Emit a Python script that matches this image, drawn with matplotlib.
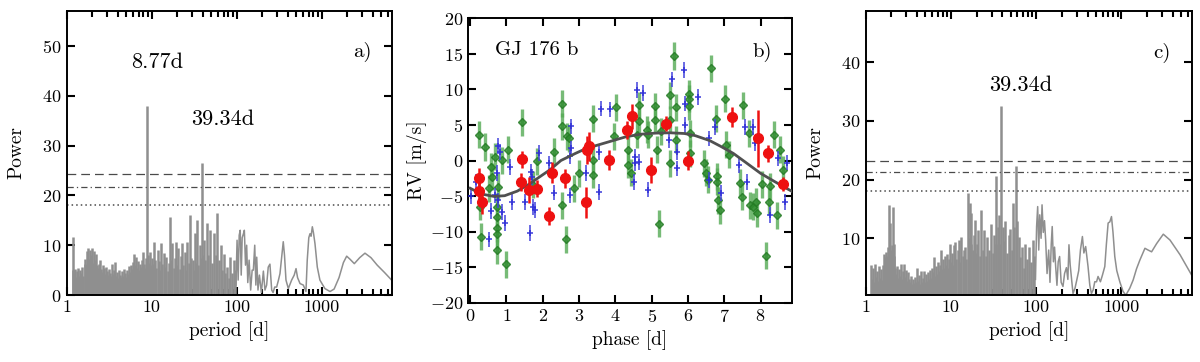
import matplotlib
matplotlib.use("Agg")
import matplotlib.pyplot as plt
from matplotlib.ticker import NullFormatter, FixedLocator

plt.rcParams['font.family'] = 'serif'
plt.rcParams['font.serif'] = ['cmr10']
plt.rcParams['mathtext.fontset'] = 'cm'
plt.rcParams['axes.formatter.use_mathtext'] = True

# ---------------- Panel a: periodogram (peaks, dense part) ----------------
a_peak_period = [1.17, 1.19, 1.22, 1.26, 1.29, 1.33, 1.37, 1.41, 1.45, 1.49, 1.53, 1.57, 1.62, 1.66,
                 1.70, 1.75, 1.79, 1.84, 1.89, 1.94, 1.99, 2.05, 2.10, 2.16, 2.22, 2.28, 2.34, 2.40,
                 2.46, 2.53, 2.60, 2.67, 2.74, 2.81, 2.89, 2.97, 3.05, 3.13, 3.22, 3.31, 3.40, 3.49,
                 3.58, 3.68, 3.78, 3.88, 3.99, 4.10, 4.21, 4.33, 4.45, 4.57, 4.69, 4.82, 4.95, 5.09,
                 5.23, 5.37, 5.52, 5.67, 5.83, 5.99, 6.15, 6.32, 6.50, 6.68, 6.86, 7.05, 7.24, 7.44,
                 7.65, 7.86, 8.07, 8.29, 8.52, 8.77, 9.01, 9.26, 9.51, 9.77, 10.0,
                 10.3, 10.6, 10.9, 11.3, 11.7, 12.1, 12.5, 12.8, 13.3, 13.8, 14.3, 14.9, 15.5, 16.0,
                 16.5, 17.0, 17.5, 18.1, 18.6, 19.2, 19.9, 20.6, 21.3, 22.0, 22.8, 23.6, 24.4, 25.3,
                 26.3, 27.2, 28.2, 29.2, 30.2, 31.1, 32.0, 33.2, 34.4, 35.5, 36.6, 37.8, 38.8, 40.0,
                 41.0, 42.5, 44.6, 46.5, 48.9, 51.0, 53.5, 56.5, 59.4, 62.0, 64.5, 67.0, 70.0, 73.5,
                 77.0, 80.5, 84.0, 88.0, 92.0, 96.0]
a_peak_power = [11.6, 5.0, 4.2, 5.3, 3.6, 4.8, 5.5, 3.9, 5.0, 4.4, 5.6, 3.8, 6.2, 7.3,
                6.0, 8.9, 9.4, 7.2, 9.1, 8.0, 9.5, 6.4, 8.8, 7.0, 8.3, 6.1, 5.4, 6.3,
                7.0, 5.2, 4.6, 6.0, 5.4, 4.3, 5.7, 4.8, 4.0, 5.3, 4.5, 3.8, 6.3, 4.2,
                5.0, 6.7, 3.9, 4.6, 3.5, 5.0, 4.1, 3.6, 4.9, 3.8, 5.3, 4.4, 3.7, 5.0,
                4.2, 5.8, 4.6, 6.1, 5.2, 6.6, 8.3, 6.0, 7.7, 5.5, 6.8, 5.0, 6.2, 5.6,
                7.0, 8.7, 6.3, 5.4, 7.5, 37.9, 8.0, 6.5, 8.7, 6.0, 7.5,
                6.2, 10.7, 7.0, 5.4, 9.0, 6.8, 5.0, 10.4, 6.2, 8.4, 5.6, 7.7, 4.8, 6.5,
                15.7, 7.0, 10.4, 5.5, 7.5, 10.7, 6.0, 9.4, 5.3, 7.8, 10.4, 6.0, 8.7, 5.0,
                10.7, 6.5, 16.0, 7.5, 7.0, 5.0, 12.4, 6.5, 15.0, 6.0, 10.0, 7.5, 26.5, 8.0,
                11.0, 7.0, 14.4, 8.0, 13.0, 6.5, 12.4, 8.0, 16.4, 7.0, 10.0, 5.0, 8.3, 4.5,
                5.7, 3.5, 7.7, 4.5, 7.0, 5.0]
# Panel a: long-period part of the periodogram (continuous line)
a_line_period = [98, 101, 104, 107, 110, 113, 116, 120, 123, 127, 131, 135, 140, 146, 152, 157, 163,
                 168, 172, 178, 185, 195, 206, 215, 225, 235, 246, 258, 268, 280, 295, 310, 323, 340,
                 353, 365, 380, 405, 443, 475, 499, 520, 556, 608, 653, 676, 705, 728, 750, 776, 800,
                 834, 888, 953, 1090, 1253, 1400, 1600, 1800, 1968, 2150, 2420, 2800, 3230, 3800,
                 4500, 5500, 6650]
a_line_power = [2.0, 11.0, 3.0, 12.0, 13.0, 4.0, 11.5, 12.3, 13.0, 6.0, 10.0, 2.5, 7.0, 1.0, 5.0, 5.0,
                10.0, 2.0, 7.6, 1.0, 4.0, 0.5, 4.8, 1.0, 2.0, 5.6, 6.2, 1.0, 0.5, 1.6, 1.6, 3.0, 4.3,
                8.0, 10.7, 8.0, 3.0, 1.3, 3.0, 4.0, 5.3, 3.5, 2.3, 2.0, 0.7, 7.0, 11.5, 12.3, 11.8,
                13.7, 12.5, 10.3, 5.6, 3.0, 1.3, 0.7, 1.2, 3.5, 6.5, 7.8, 7.2, 6.3, 7.5, 8.4, 7.5,
                6.0, 4.5, 3.0]
a_levels = [24.2, 21.6, 18.1]

# ---------------- Panel c ----------------
c_peak_period = [1.16, 1.19, 1.22, 1.25, 1.28, 1.31, 1.35, 1.38, 1.42, 1.46, 1.50, 1.54, 1.58, 1.62,
                 1.66, 1.70, 1.74, 1.78, 1.83, 1.88, 1.92, 1.97, 2.02, 2.08, 2.12, 2.17, 2.22, 2.28,
                 2.34, 2.40, 2.46, 2.53, 2.60, 2.67, 2.74, 2.81, 2.89, 2.97, 3.05, 3.13, 3.22, 3.31,
                 3.40, 3.49, 3.58, 3.68, 3.78, 3.88, 3.99, 4.10, 4.21, 4.33, 4.45, 4.57, 4.69, 4.82,
                 4.95, 5.09, 5.23, 5.37, 5.52, 5.67, 5.83, 5.99, 6.15, 6.32, 6.50, 6.68, 6.86, 7.05,
                 7.24, 7.44, 7.65, 7.86, 8.07, 8.29, 8.52, 8.77, 9.01, 9.26, 9.51, 9.77, 10.0,
                 10.3, 10.6, 10.9, 11.2, 11.6, 12.0, 12.3, 12.7, 13.2, 13.7, 14.1, 14.5, 15.1, 15.8,
                 16.2, 16.6, 17.0, 17.4, 18.0, 18.5, 19.0, 19.6, 20.2, 20.8, 21.7, 22.7, 23.6, 24.5,
                 25.6, 26.7, 28.0, 29.7, 31.0, 32.3, 33.3, 34.2, 35.2, 36.2, 37.2, 38.9, 40.3, 41.5,
                 43.5, 45.5, 47.5, 49.5, 51.5, 53.5, 55.5, 57.7, 60.0, 62.5, 65.0, 68.0, 71.0, 74.5,
                 78.0, 82.0, 86.0, 91.0, 95.0]
c_peak_power = [5.5, 3.0, 5.0, 2.6, 5.7, 3.4, 4.5, 2.8, 5.3, 3.2, 4.8, 2.9, 5.5, 4.0,
                7.3, 6.8, 7.6, 7.0, 8.6, 15.6, 12.6, 8.0, 8.8, 15.4, 9.0, 7.0, 5.0, 4.0,
                5.2, 3.3, 4.8, 3.6, 5.7, 3.1, 4.4, 5.7, 3.4, 4.6, 2.8, 4.3, 3.0, 2.5,
                3.6, 2.2, 3.1, 2.4, 3.4, 2.6, 4.9, 2.8, 3.8, 2.3, 4.5, 2.6, 3.2, 4.4,
                2.5, 3.9, 2.7, 4.2, 3.0, 4.6, 3.3, 5.0, 4.2, 6.9, 3.5, 5.3, 4.0, 6.0,
                4.5, 5.5, 8.0, 4.8, 6.5, 5.0, 7.0, 5.5, 7.4, 5.0, 6.5, 9.1, 6.0,
                7.5, 5.5, 8.8, 9.4, 6.5, 8.0, 9.7, 6.0, 10.3, 7.0, 8.0, 8.6, 6.5, 17.7,
                10.0, 16.0, 9.0, 14.3, 8.0, 10.5, 13.1, 7.5, 9.0, 11.4, 7.0, 14.8, 8.0, 11.4,
                7.0, 10.3, 8.0, 12.5, 7.5, 10.6, 9.0, 20.6, 12.0, 14.0, 9.0, 32.6, 12.0, 9.5,
                13.0, 7.5, 10.5, 11.5, 8.0, 16.0, 12.0, 22.3, 13.0, 10.3, 6.9, 8.5, 5.0, 9.0,
                6.5, 8.5, 6.0, 9.7, 7.0]
c_line_period = [98, 101, 104, 107, 110, 114, 117, 121, 125, 129, 134, 140, 145, 150, 154, 159, 164,
                 169, 175, 181, 188, 196, 206, 215, 226, 235, 242, 250, 262, 270, 285, 300, 315, 330,
                 348, 362, 380, 405, 425, 444, 465, 486, 510, 531, 566, 597, 637, 665, 697, 730, 763,
                 795, 834, 880, 955, 1040, 1122, 1250, 1370, 1500, 1643, 1883, 2050, 2254, 2582,
                 3091, 3706, 4858, 6668]
c_line_power = [3.0, 12.0, 15.4, 8.0, 14.0, 10.0, 15.7, 11.0, 13.0, 9.7, 4.0, 8.0, 2.5, 9.0, 12.0,
                6.0, 8.5, 5.2, 2.0, 6.0, 6.9, 2.5, 1.8, 4.0, 5.0, 3.0, 8.9, 5.5, 2.5, 0.6, 1.5, 3.0,
                4.5, 8.0, 10.3, 7.5, 8.6, 5.2, 2.0, 0.6, 1.2, 2.6, 2.6, 3.5, 2.6, 3.7, 5.2, 9.0, 12.6,
                12.8, 13.7, 11.0, 6.9, 4.5, 2.6, 1.0, 0.3, 1.5, 2.9, 4.8, 6.3, 8.3, 8.0, 7.7, 9.1,
                10.7, 9.7, 7.2, 3.7]
c_levels = [23.2, 21.25, 18.0]

# ---------------- Panel b: phased RVs ----------------
g_phase = [0.25, 0.27, 0.30, 0.41, 0.51, 0.57, 0.60, 0.69, 0.73, 0.73, 0.73, 0.73, 0.73, 0.78, 0.87,
           0.99, 1.04, 1.44, 1.73, 1.85, 2.30, 2.54, 2.54, 2.64, 2.54, 2.66, 2.71, 2.85, 3.00, 3.38,
           3.38, 3.38, 3.95, 4.01, 4.34, 4.34, 4.44, 4.64, 4.64, 4.59, 4.87, 4.91, 5.08, 5.08, 5.14,
           5.19, 5.26, 5.51, 5.51, 5.51, 5.62, 5.67, 5.67, 6.04, 6.04, 6.04, 6.06, 6.06, 6.63, 6.45,
           6.50, 6.54, 6.78, 6.80, 6.80, 6.84, 6.89, 7.02, 7.05, 7.12, 7.44, 7.48, 7.53, 7.67, 7.71,
           7.79, 7.88, 7.90, 8.03, 8.15, 8.22, 8.25, 8.36, 8.45, 8.54, 8.63]
g_rv = [3.6, -6.5, -10.7, 1.9, -3.9, -0.9, -2.3, 0.5, -6.5, -7.9, -9.5, -10.4, -12.6, -3.7, 0.07,
        -14.6, 1.5, 5.4, -3.4, -0.07, 1.2, 7.95, 4.8, -11.1, -6.3, 3.4, 3.1, -3.9, -1.8, 5.9,
        0.07, -2.0, 3.4, 7.5, 1.5, -0.6, -1.7, 7.8, 5.6, 3.6, 4.3, 3.6, 7.6, 5.7, 1.5,
        -8.9, 4.1, 9.2, 5.7, -0.4, 14.7, 2.9, 7.5, 9.4, 8.7, 7.6, 3.8, 1.0, 13.0, -0.4,
        -1.7, -2.7, 5.9, -2.2, -3.0, -5.6, -7.0, 8.7, 2.2, 0.8, -3.1, -5.1, 7.8, 3.8, -6.3,
        -6.5, -5.8, -7.4, -3.35, -13.4, -5.8, -3.6, 3.6, -7.7, 1.5, -1.3]
g_err = 1.9

b_phase = [0.03, 0.17, 0.51, 0.57, 0.69, 0.73, 0.78, 0.83, 0.78, 0.87, 0.95, 1.10, 1.15, 1.52, 1.65,
           1.68, 1.70, 1.73, 1.79, 1.89, 2.18, 2.30, 2.74, 2.76, 2.78, 2.78, 3.19, 3.54, 3.61, 3.84,
           3.56, 4.50, 4.55, 4.59, 4.76, 4.91, 4.55, 4.64, 5.49, 5.56, 5.69, 5.69, 5.90, 5.92, 5.92,
           6.29, 6.59, 6.59, 6.75, 6.90, 7.41, 7.62, 7.57, 7.78, 7.85, 8.26, 8.48, 8.66, 8.72]
b_rv = [-5.0, -3.0, -11.1, -7.1, -4.9, -1.8, 2.0, 1.2, -5.6, -7.2, -8.8, -0.9, -5.8, -5.8, -10.2,
        -1.6, -2.3, -6.5, -7.0, 1.1, -0.4, -4.5, -4.9, 0.6, 1.7, 4.8, -1.8, -4.4, 7.3, 7.2,
        1.2, -3.0, 0.5, 9.9, 9.5, -4.1, -0.4, -0.2, 2.9, 11.4, 1.2, -1.1, 12.7, 8.0, 5.0,
        8.9, 3.1, -2.7, 4.7, -4.6, -0.6, -3.0, 4.7, 4.7, 2.4, -7.7, 0.3, -5.8, -0.3]
b_err = 1.1

r_phase = [0.23, 0.23, 0.32, 1.40, 1.44, 1.61, 1.85, 2.16, 2.25, 2.60, 3.18, 3.22, 3.26, 3.82, 4.32,
           4.46, 4.98, 5.39, 5.99, 7.21, 7.92, 8.20, 8.61]
r_rv = [-2.5, -4.3, -5.9, -3.0, 0.2, -4.15, -4.0, -7.8, -1.7, -2.5, -5.9, 1.5, 2.0, 0.07, 4.3,
        6.2, -1.3, 5.2, 0.0, 6.1, 3.1, 1.0, -3.35]
r_err = [1.5, 1.3, 1.6, 1.3, 1.2, 1.8, 1.2, 1.3, 1.5, 1.3, 2.2, 2.0, 2.0, 1.4, 1.3,
         1.8, 1.8, 1.0, 1.4, 1.4, 4.0, 1.2, 1.0]

fit_phase = [0.0, 0.3, 0.65, 0.95, 1.3, 1.6, 2.0, 2.2, 2.5, 2.9, 3.2, 3.6, 4.0, 4.3, 4.7, 5.1, 5.5,
             5.9, 6.2, 6.6, 6.9, 7.25, 7.6, 8.0, 8.4, 8.85]
fit_rv = [-3.9, -4.7, -5.05, -4.95, -4.3, -3.4, -2.0, -1.3, 0.0, 1.0, 1.7, 2.3, 2.9, 3.35, 3.7,
          3.85, 3.9, 3.8, 3.5, 2.8, 2.0, 1.0, -0.3, -1.8, -3.0, -4.3]

log_ticks = [1, 10, 100, 1000]
log_ticklabels = ['1', '10', '100', '1000']

GRAY = '#8f8f8f'
LVL = '#4a4a4a'

fig = plt.figure(figsize=(12, 3.62), dpi=100)
ax_a = fig.add_axes([0.0556, 0.185, 0.2708, 0.7845])
ax_b = fig.add_axes([0.3903, 0.1638, 0.2695, 0.7856])
ax_c = fig.add_axes([0.7214, 0.185, 0.2717, 0.7845])


def style(ax):
    for s in ax.spines.values():
        s.set_linewidth(1.4)
    ax.tick_params(which='both', direction='in', top=True, right=True, labelsize=13, width=1.5)
    ax.tick_params(which='major', length=5.5)
    ax.tick_params(which='minor', length=4)


def periodogram(ax, pp, pw, lp, lw_, levels, ylim, yticks):
    ax.set_xscale('log')
    ax.vlines(pp, 0, pw, color=GRAY, lw=1.8)
    ax.plot(lp, lw_, color=GRAY, lw=1.1)
    ax.axhline(levels[0], color=LVL, lw=0.9, ls=(0, (7, 4)))
    ax.axhline(levels[1], color=LVL, lw=0.9, ls=(0, (5, 2.5, 1, 2.5)))
    ax.axhline(levels[2], color=LVL, lw=1.1, ls=(0, (1, 2)))
    ax.set_xlim(1, 6660)
    ax.set_ylim(*ylim)
    ax.set_xticks(log_ticks)
    ax.set_xticklabels(log_ticklabels)
    ax.xaxis.set_minor_formatter(NullFormatter())
    ax.yaxis.set_major_locator(FixedLocator(yticks))
    ax.set_xlabel('period [d]', fontsize=14, labelpad=4)
    ax.set_ylabel('Power', fontsize=14, labelpad=12)
    style(ax)


periodogram(ax_a, a_peak_period, a_peak_power, a_line_period, a_line_power, a_levels,
            (0, 57), [0, 10, 20, 30, 40, 50])
ax_a.text(11.5, 46.7, '8.77d', fontsize=16, ha='center', va='center')
ax_a.text(68, 35.2, '39.34d', fontsize=16, ha='center', va='center')
ax_a.text(3020, 48.8, 'a)', fontsize=15, ha='center', va='center')

periodogram(ax_c, c_peak_period, c_peak_power, c_line_period, c_line_power, c_levels,
            (0.34, 48.7), [10, 20, 30, 40])
ax_c.text(66.6, 36.1, '39.34d', fontsize=16, ha='center', va='center')
ax_c.text(2950, 41.6, 'c)', fontsize=15, ha='center', va='center')

# Panel b
ax_b.errorbar(g_phase, g_rv, yerr=g_err, fmt='D', color='#2e8b2e', ms=4, mec='#237a23',
              ecolor='#55aa55', elinewidth=2.4, capsize=0, alpha=0.8, zorder=2)
ax_b.errorbar(b_phase, b_rv, yerr=b_err, fmt='+', color='#2b2bd6', ms=5, mew=1.2,
              ecolor='#4444dd', elinewidth=1.3, capsize=0, alpha=0.85, zorder=3)
ax_b.plot(fit_phase, fit_rv, color='#505050', lw=2.0, zorder=4)
ax_b.errorbar(r_phase, r_rv, yerr=r_err, fmt='o', color='#ee1111', ms=7, mec='#ee1111',
              ecolor='#ee1111', elinewidth=1.8, capsize=0, zorder=5)
ax_b.set_xlim(-0.05, 8.86)
ax_b.set_ylim(-20, 20)
ax_b.xaxis.set_major_locator(FixedLocator([0, 1, 2, 3, 4, 5, 6, 7, 8]))
ax_b.yaxis.set_major_locator(FixedLocator([-20, -15, -10, -5, 0, 5, 10, 15, 20]))
ax_b.set_xlabel('phase [d]', fontsize=14, labelpad=4)
ax_b.set_ylabel('RV [m/s]', fontsize=14, labelpad=2)
ax_b.text(1.84, 15.5, 'GJ 176 b', fontsize=15, ha='center', va='center')
ax_b.text(8.06, 15.3, 'b)', fontsize=15, ha='center', va='center')
style(ax_b)

fig.savefig('out.png', dpi=100)
